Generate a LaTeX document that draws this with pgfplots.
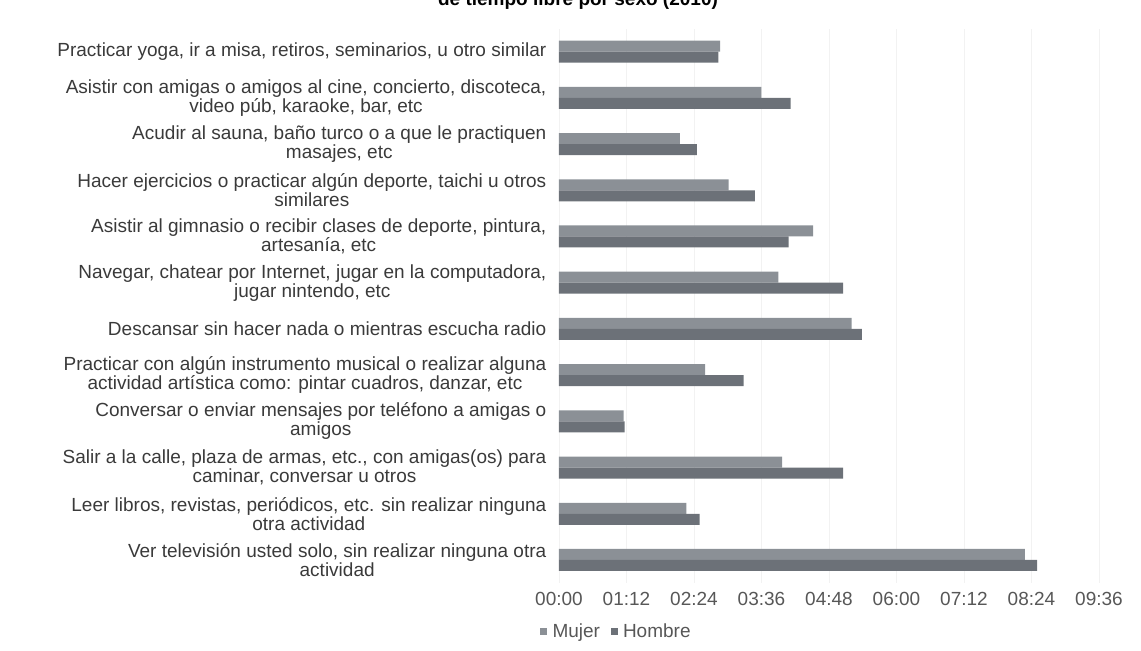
\documentclass[border=0pt]{standalone}
\usepackage{pgfplots}
\pgfplotsset{compat=1.18}
\usepackage{pgfplotstable}
\usepackage{fontspec}
\setmainfont{Liberation Sans}
\definecolor{mujer}{HTML}{8B9096}
\definecolor{hombre}{HTML}{6C7178}
\definecolor{txt}{HTML}{3A3A3A}
\pgfplotstableread{
y Mujer Hombre
0 497 510
1 136 150
2 238 303
3 69 70
4 156 197
5 312 323
6 234 303
7 271 245
8 181 209
9 129 147
10 216 247
11 172 170
}\datatable
\begin{document}
\begin{tikzpicture}
\useasboundingbox (-419.25pt,-50.9pt) rectangle (436.5pt,437.3pt);
\begin{axis}[
  at={(0,0)}, anchor=south west,
  scale only axis, width=405pt, height=415.9pt,
  xbar, bar width=8.25pt,
  xmin=0, xmax=576, ymin=-0.5, ymax=11.5,
  axis line style={draw=none},
  major tick length=0pt,
  xmajorgrids, grid style={black!5},
  xtick={0,72,144,216,288,360,432,504,576},
  xticklabels={00:00,01:12,02:24,03:36,04:48,06:00,07:12,08:24,09:36},
  xticklabel style={font=\fontsize{14.25}{16}\selectfont, text=txt!85, yshift=-3pt},
  ytick={0,...,11},
  yticklabels={
    {Ver televisión usted solo, sin realizar ninguna otra\\actividad},
    {Leer libros, revistas, periódicos, etc. sin realizar ninguna\\otra actividad},
    {Salir a la calle, plaza de armas, etc., con amigas(os) para\\caminar, conversar u otros},
    {Conversar o enviar mensajes por teléfono a amigas o\\amigos},
    {Practicar con algún instrumento musical o realizar alguna\\actividad artística como: pintar cuadros, danzar, etc},
    {Descansar sin hacer nada o mientras escucha radio},
    {Navegar, chatear por Internet, jugar en la computadora,\\jugar nintendo, etc},
    {Asistir al gimnasio o recibir clases de deporte, pintura,\\artesanía, etc},
    {Hacer ejercicios o practicar algún deporte, taichi u otros\\similares},
    {Acudir al sauna, baño turco o a que le practiquen\\masajes, etc},
    {Asistir con amigas o amigos al cine, concierto, discoteca,\\video púb, karaoke, bar, etc},
    {Practicar yoga, ir a misa, retiros, seminarios, u otro similar}
  },
  yticklabel style={align=center, font=\fontsize{14.25}{14.3}\selectfont, text=txt, xshift=-6pt},
  legend style={draw=none, fill=none, at={(axis description cs:0.107,-0.088)}, anchor=center,
    legend columns=2, font=\fontsize{14.25}{16}\selectfont, text=txt!85,
    /tikz/every odd column/.append style={column sep=2pt},
    /tikz/every even column/.append style={column sep=6pt}},
  legend image code/.code={\fill[#1] (0pt,-2.6pt) rectangle (5.2pt,2.6pt);},
]
\addplot[fill=mujer, draw=none, bar shift=4.125pt] table[x=Mujer, y=y] {\datatable};
\addplot[fill=hombre, draw=none, bar shift=-4.125pt] table[x=Hombre, y=y] {\datatable};
\legend{Mujer, Hombre}
\end{axis}
\node[anchor=base, font=\bfseries\fontsize{14.25}{16}\selectfont, text=black] at (14.25pt,433.5pt) {de tiempo libre por sexo (2010)};
\end{tikzpicture}
\end{document}
